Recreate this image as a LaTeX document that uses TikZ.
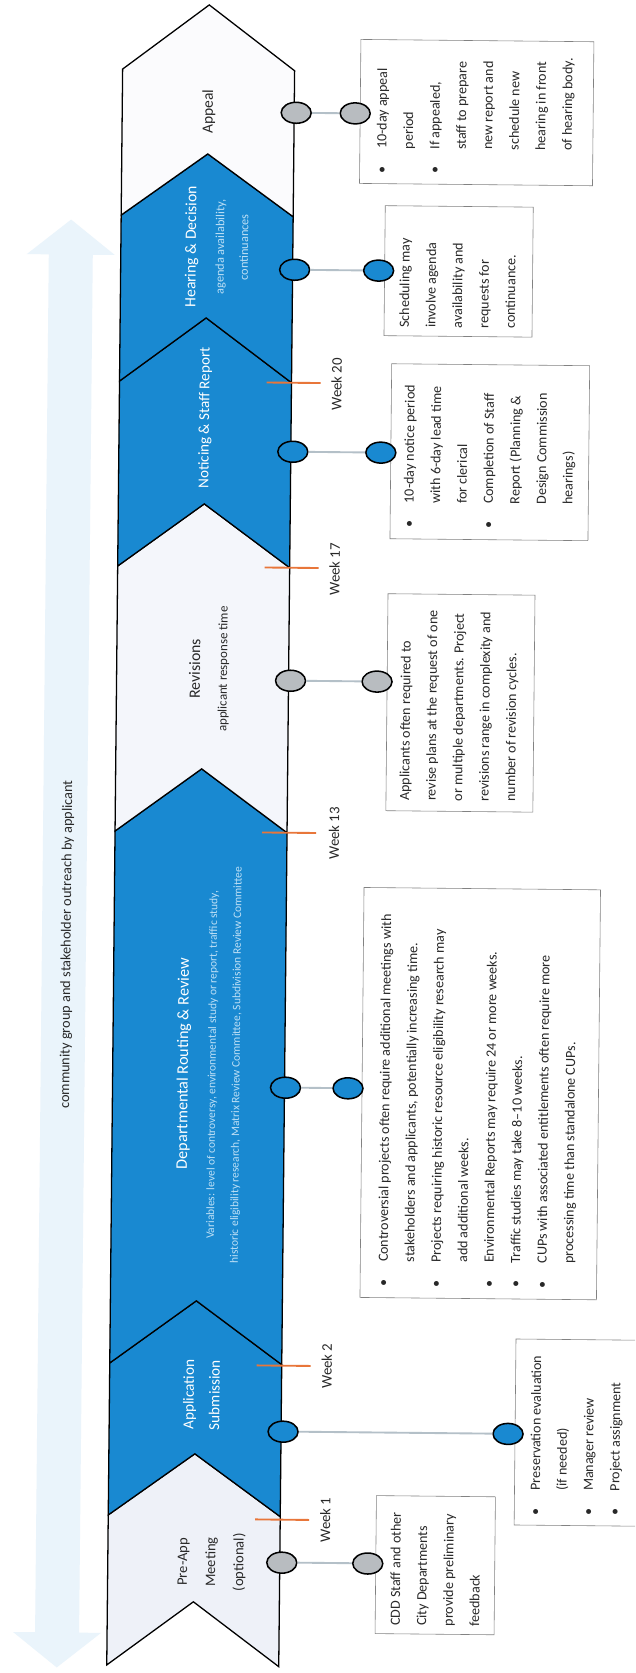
\documentclass[tikz,border=0pt]{standalone}
\usepackage{fontspec}
\setmainfont{Carlito}
\usetikzlibrary{shapes.geometric}
\definecolor{cblue}{RGB}{25,137,209}
\definecolor{clight}{RGB}{238,241,248}
\definecolor{clighttwo}{RGB}{244,246,251}
\definecolor{cwhite}{RGB}{251,251,253}
\definecolor{corange}{RGB}{232,118,58}
\definecolor{cknob}{RGB}{184,188,192}
\definecolor{cconn}{RGB}{180,192,200}
\definecolor{cbox}{RGB}{130,130,130}
\definecolor{ctext}{RGB}{40,40,40}
\definecolor{csub}{RGB}{190,224,246}
\definecolor{carrow}{RGB}{234,244,251}
\newcommand\bitem{\makebox[21pt][l]{\textbullet}}
\newcommand\bcont{\makebox[21pt]{}}
\begin{document}
\begin{tikzpicture}[x=0.3mm,y=-0.3mm,
  seg/.style={draw=black,line width=1.1pt,line join=miter},
  infobox/.style={draw=cbox,line width=0.5pt,inner sep=0pt},
  boxtext/.style={rotate=90,anchor=west,inner sep=0pt,align=left,text=ctext,font=\fontsize{12}{22.6}\selectfont},
  knob/.style={ellipse,draw=black,line width=1.3pt,minimum width=9mm,minimum height=6.3mm,inner sep=0pt},
  gknob/.style={knob,fill=cknob},
  bknob/.style={knob,fill=cblue},
  conn/.style={draw=cconn,line width=1.6pt},
  weektick/.style={draw=corange,line width=1.6pt},
  weeklabel/.style={rotate=90,inner sep=0pt,text=ctext,font=\fontsize{12.6}{15}\selectfont},
  ttl/.style={rotate=90,inner sep=0pt,align=center,text=ctext},
  ]
\fill[white] (0,0) rectangle (635,1673);
\useasboundingbox (0,0) rectangle (635,1673);
\clip (0,0) rectangle (635,1673);
\begin{scope}[rotate around={-0.57:(317,836)}, transform shape]
% background double arrow
\fill[carrow] (65,222) -- (109,257) -- (87,257) -- (87,1635) -- (109,1635) -- (65,1670) -- (21,1635) -- (43,1635) -- (43,257) -- (21,257) -- cycle;
\node[rotate=90,inner sep=0pt,text=ctext,font=\fontsize{12.2}{14}\selectfont] (cg) at (68,947) {community group and stakeholder outreach by applicant};

% chevrons
\path[seg, fill=clight] (115,1667) -- (201,1603) -- (287,1667) -- (287,1517) -- (201,1455) -- (115,1517) -- cycle;
\path[seg, fill=cblue] (115,1517) -- (201,1455) -- (287,1517) -- (287,1365) -- (201,1302) -- (115,1365) -- cycle;
\path[seg, fill=cblue] (115,1365) -- (201,1302) -- (287,1365) -- (287,833) -- (201,770) -- (115,833) -- cycle;
\path[seg, fill=clighttwo] (115,833) -- (201,770) -- (287,833) -- (287,568) -- (201,505) -- (115,568) -- cycle;
\path[seg, fill=cblue] (115,568) -- (201,505) -- (287,568) -- (287,383) -- (201,319) -- (115,383) -- cycle;
\path[seg, fill=cblue] (115,383) -- (201,319) -- (287,383) -- (287,217) -- (201,155) -- (115,217) -- cycle;
\path[seg, fill=cwhite] (115,217) -- (201,155) -- (287,217) -- (287,71) -- (201,6) -- (115,71) -- cycle;

% week ticks
\draw[weektick] (262,1520) -- (316,1520);
\node[weeklabel] (w1) at (332,1520) {Week 1};
\draw[weektick] (262,1366) -- (316,1366);
\node[weeklabel] (w2) at (332,1366) {Week 2};
\draw[weektick] (262,833) -- (316,833);
\node[weeklabel] (w13) at (334,833) {Week 13};
\draw[weektick] (262,568) -- (316,568);
\node[weeklabel] (w17) at (332,569) {Week 17};
\draw[weektick] (262,383) -- (316,383);
\node[weeklabel] (w20) at (332,384) {Week 20};

% chevron texts
\node[ttl, font=\fontsize{12.4}{24}\selectfont] (pre) at (219,1563) {Pre-App\\Meeting\\(optional)};
\node[ttl, text=white, font=\fontsize{13}{22}\selectfont] (appl) at (207,1396) {Application\\Submission};
\node[ttl, text=white, font=\fontsize{13.8}{16}\selectfont] (dept) at (186,1065) {Departmental Routing \& Review};
\node[ttl, text=csub, font=\fontsize{9.8}{20.5}\selectfont] (deptv) at (227,1066) {Variables: level of controversy, environmental study or report, traffic study,\\historic eligibility research, Matrix Review Committee, Subdivision Review Committee};
\node[ttl, font=\fontsize{13.5}{16}\selectfont] (rev) at (193,670) {Revisions};
\node[ttl, font=\fontsize{11}{13}\selectfont] (revs) at (222,670) {applicant response time};
\node[ttl, text=white, font=\fontsize{12.9}{15}\selectfont] (noti) at (201,419) {Noticing \& Staff Report};
\node[ttl, text=white, font=\fontsize{13.4}{16}\selectfont] (hear) at (186,248) {Hearing \& Decision};
\node[ttl, text=csub, font=\fontsize{10.5}{20.5}\selectfont] (hears) at (226,248) {agenda availability,\\continuances};
\node[ttl, font=\fontsize{13.2}{16}\selectfont] (appeal) at (201.5,113) {Appeal};

% boxes
\node[infobox, minimum width=35.7mm, minimum height=41.4mm] (b1) at (442.5,1564) {};
\node[boxtext] (t1) at (442.5,1625) {CDD Staff and other\\City Departments\\provide preliminary\\feedback};

\node[infobox, minimum width=36.9mm, minimum height=55.8mm] (b2) at (582.5,1430) {};
\node[boxtext] (t2) at (582.5,1513) {\bitem Preservation evaluation\\\bcont(if needed)\\\bitem Manager review\\\bitem Project assignment};

\node[infobox, minimum width=70.95mm, minimum height=123mm] (b3) at (482.8,1092) {};
\node[boxtext] (t3) at (481,1286) {\bitem Controversial projects often require additional meetings with\\
\bcont stakeholders and applicants, potentially increasing time.\\
\bitem Projects requiring historic resource eligibility research may\\
\bcont add additional weeks.\\
\bitem Environmental Reports may require 24 or more weeks.\\
\bitem Traffic studies may take 8\textendash10 weeks.\\
\bitem CUPs with associated entitlements often require more\\
\bcont processing time than standalone CUPs.};

\node[infobox, minimum width=44.1mm, minimum height=65.1mm] (b4) at (459.1,701.5) {};
\node[boxtext] (t4) at (458,800) {Applicants often required to\\revise plans at the request of one\\or multiple departments. Project\\revisions range in complexity and\\number of revision cycles.};

\node[infobox, minimum width=59.4mm, minimum height=52.5mm] (b5) at (486,450.5) {};
\node[boxtext] (t5) at (486,527) {\bitem 10-day notice period\\\bcont with 6-day lead time\\\bcont for clerical\\\bitem Completion of Staff\\\bcont Report (Planning \&\\\bcont Design Commission\\\bcont hearings)};

\node[infobox, minimum width=44.4mm, minimum height=39mm] (b6) at (453,270) {};
\node[boxtext] (t6) at (452,327) {Scheduling may\\involve agenda\\availability and\\requests for\\continuance.};

\node[infobox, minimum width=69.9mm, minimum height=43.2mm] (b7) at (469.5,111) {};
\node[boxtext] (t7) at (468.5,173) {\bitem 10-day appeal\\\bcont period\\\bitem If appealed,\\\bcont staff to prepare\\\bcont new report and\\\bcont schedule new\\\bcont hearing in front\\\bcont of hearing body.};

% knobs
\node[gknob] (k1a) at (289,1563) {};
\node[gknob] (k1b) at (375,1563) {};
\node[bknob] (k2a) at (289,1432) {};
\node[bknob] (k2b) at (514,1432) {};
\node[bknob] (k3a) at (288,1088) {};
\node[bknob] (k3b) at (350.5,1088) {};
\node[gknob] (k4a) at (289,681) {};
\node[gknob] (k4b) at (375.5,681) {};
\node[bknob] (k5a) at (289,452) {};
\node[bknob] (k5b) at (377,452) {};
\node[bknob] (k6a) at (289,270) {};
\node[bknob] (k6b) at (373,270) {};
\node[gknob] (k7a) at (289,113) {};
\node[gknob] (k7b) at (348,113) {};
\draw[conn] (k1a) -- (k1b);
\draw[conn] (k2a) -- (k2b);
\draw[conn] (k3a) -- (k3b);
\draw[conn] (k4a) -- (k4b);
\draw[conn] (k5a) -- (k5b);
\draw[conn] (k6a) -- (k6b);
\draw[conn] (k7a) -- (k7b);
\end{scope}
\end{tikzpicture}
\end{document}
